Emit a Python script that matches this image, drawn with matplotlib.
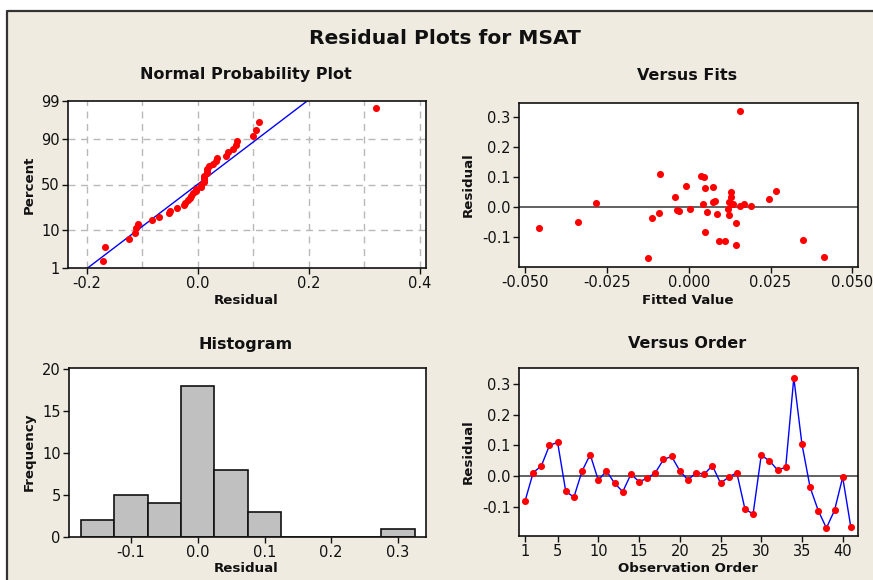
import matplotlib
matplotlib.use("Agg")
import matplotlib.pyplot as plt
from matplotlib.patches import Rectangle
from matplotlib.lines import Line2D
from statistics import NormalDist
import numpy as np

# residuals in observation order (1..41)
residuals = [-0.082, 0.011, 0.033, 0.100, 0.110, -0.050, -0.069, 0.016, 0.070, -0.014,
             0.017, -0.024, -0.051, 0.006, -0.018, -0.008, 0.011, 0.054, 0.064, 0.017,
             -0.013, 0.011, 0.006, 0.034, -0.023, -0.004, 0.011, -0.108, -0.124, 0.068,
             0.050, 0.020, 0.028, 0.321, 0.104, -0.037, -0.113, -0.170, -0.112, -0.004,
             -0.167]
# fitted values in the same order
fitted = [0.0051, 0.0043, -0.0042, 0.0048, -0.0089, -0.0339, -0.0456, -0.0284, -0.0009, 0.0056,
          0.0075, 0.0122, 0.0143, 0.0158, -0.0090, -0.0037, 0.0132, 0.0266, 0.0051, 0.0124,
          -0.0029, 0.0169, 0.0189, 0.0129, 0.0088, 0.0119, 0.0135, 0.0349, 0.0144, 0.0074,
          0.0130, 0.0079, 0.0246, 0.0158, 0.0038, -0.0112, 0.0093, -0.0125, 0.0112, 0.0004,
          0.0413]
pct_ticks = [1, 10, 50, 90, 99]
hist_edges = [-0.175, -0.125, -0.075, -0.025, 0.025, 0.075, 0.125, 0.175, 0.225, 0.275, 0.325]
order_ticks = [1, 5, 10, 15, 20, 25, 30, 35, 40]

W, H = 873, 580
BG = '#EFEBE1'
plt.rcParams['font.family'] = ['DejaVu Sans']

fig = plt.figure(figsize=(W / 100, H / 100), dpi=100, facecolor='white')
x0, y0 = 7 / W, 1 - 11 / H
fig.patches.append(Rectangle((x0, 0), 1 - x0, y0, transform=fig.transFigure,
                             facecolor=BG, edgecolor='none', zorder=-5))
fig.lines.append(Line2D([x0, x0, 1], [0, y0, y0], transform=fig.transFigure,
                        color='#333333', lw=1.6))


def px_axes(l, t, r, b):
    ax = fig.add_axes([l / W, 1 - b / H, (r - l) / W, (b - t) / H])
    for s in ax.spines.values():
        s.set_linewidth(1.2)
        s.set_color('#111111')
    ax.tick_params(direction='out', length=4, width=1, labelsize=10.5, pad=2, colors='#111111')
    return ax


def ftext(x, y, s, size, bold=True, rot=0):
    fig.text(x / W, 1 - y / H, s, ha='center', va='center', fontsize=size,
             fontweight='bold' if bold else 'normal', rotation=rot, color='#111111')


nd = NormalDist()
res = np.array(residuals)
n = len(res)

# Normal probability plot
ax1 = px_axes(68, 101, 426, 268)
srt = np.sort(res)
p = (np.arange(1, n + 1) - 0.3) / (n + 0.4)
z = np.array([nd.inv_cdf(v) for v in p])
mu, sd = res.mean(), res.std(ddof=1)
zl = np.linspace(nd.inv_cdf(0.01), nd.inv_cdf(0.99), 50)
ax1.plot(mu + sd * zl, zl, color='#0000FF', lw=1, zorder=2)
ax1.scatter(srt, z, s=26, color='#FF0000', zorder=3, linewidths=0)
ax1.set_xlim(-0.2337, 0.411)
ax1.set_ylim(nd.inv_cdf(0.01), nd.inv_cdf(0.99))
ax1.set_yticks([nd.inv_cdf(v / 100) for v in pct_ticks])
ax1.set_yticklabels([str(v) for v in pct_ticks])
ax1.set_xticks([-0.2, 0.0, 0.2, 0.4])
ax1.set_xticklabels(['-0.2', '0.0', '0.2', '0.4'])
for gx in np.arange(-0.2, 0.41, 0.1):
    ax1.axvline(gx, color='#B8B8B8', lw=1, ls=(0, (5, 4)), zorder=1)
for v in [10, 50, 90]:
    ax1.axhline(nd.inv_cdf(v / 100), color='#B8B8B8', lw=1, ls=(0, (5, 4)), zorder=1)

# Versus fits
ax2 = px_axes(519, 103, 858, 267)
ax2.axhline(0, color='#555555', lw=1.3, zorder=1)
ax2.scatter(fitted, residuals, s=26, color='#FF0000', zorder=3, linewidths=0)
ax2.set_xlim(-0.0518, 0.0517)
ax2.set_ylim(-0.199, 0.348)
ax2.set_xticks([-0.05, -0.025, 0, 0.025, 0.05])
ax2.set_xticklabels(['-0.050', '-0.025', '0.000', '0.025', '0.050'])
ax2.set_yticks([-0.1, 0, 0.1, 0.2, 0.3])
ax2.set_yticklabels(['-0.1', '0.0', '0.1', '0.2', '0.3'])

# Histogram
ax3 = px_axes(69, 368, 426, 537)
ax3.hist(residuals, bins=hist_edges, color='#C0C0C0', edgecolor='#111111', linewidth=1.2)
ax3.set_xlim(-0.193, 0.342)
ax3.set_ylim(0, 20.1)
ax3.set_xticks([-0.1, 0, 0.1, 0.2, 0.3])
ax3.set_xticklabels(['-0.1', '0.0', '0.1', '0.2', '0.3'])
ax3.set_yticks([0, 5, 10, 15, 20])

# Versus order
ax4 = px_axes(519, 368, 858, 536)
obs = np.arange(1, n + 1)
ax4.axhline(0, color='#555555', lw=1.3, zorder=1)
ax4.plot(obs, residuals, color='#0000FF', lw=1, zorder=2)
ax4.scatter(obs, residuals, s=26, color='#FF0000', zorder=3, linewidths=0)
ax4.set_xlim(0.26, 41.88)
ax4.set_ylim(-0.196, 0.353)
ax4.set_xticks(order_ticks)
ax4.set_yticks([-0.1, 0, 0.1, 0.2, 0.3])
ax4.set_yticklabels(['-0.1', '0.0', '0.1', '0.2', '0.3'])

# titles and labels
ftext(445, 38, 'Residual Plots for MSAT', 14.6)
ftext(246, 75, 'Normal Probability Plot', 11.5)
ftext(687, 75, 'Versus Fits', 11.5)
ftext(246, 344, 'Histogram', 11.5)
ftext(687, 344, 'Versus Order', 11.5)
ftext(246, 301, 'Residual', 9.6)
ftext(29, 185, 'Percent', 9.6, rot=90)
ftext(688, 301, 'Fitted Value', 9.6)
ftext(468, 185, 'Residual', 9.6, rot=90)
ftext(246, 569, 'Residual', 9.6)
ftext(29, 452, 'Frequency', 9.6, rot=90)
ftext(688, 569, 'Observation Order', 9.6)
ftext(468, 452, 'Residual', 9.6, rot=90)

fig.savefig('out.png', dpi=100, facecolor='white')
